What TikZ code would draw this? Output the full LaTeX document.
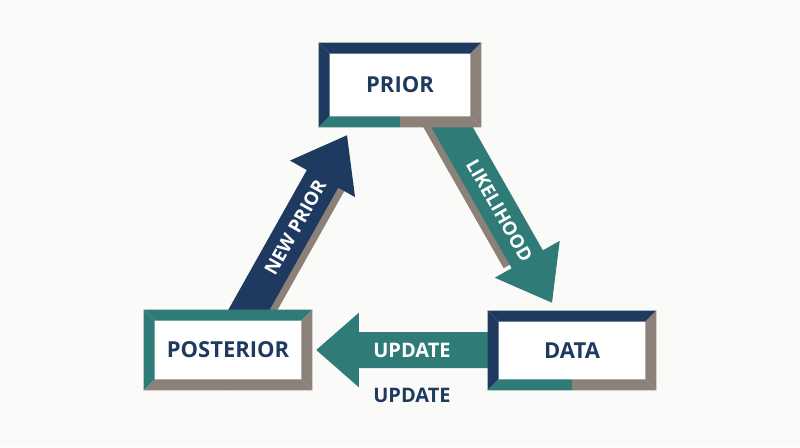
\documentclass[tikz,border=0pt]{standalone}
\usepackage{fontspec}
\setmainfont{Open Sans}
\usetikzlibrary{calc, positioning, backgrounds}
\definecolor{cnavy}{HTML}{1F3A60}
\definecolor{cteal}{HTML}{2E7B77}
\definecolor{cgrey}{HTML}{8C8178}
\definecolor{cpaper}{HTML}{FAFAF8}
\tikzset{
  every picture/.style={x=0.75pt, y=0.75pt},
  box/.style={fill=white, inner sep=0pt, minimum width=#1, minimum height=60pt, text=cnavy, font=\bfseries\fontsize{16.5}{19}\selectfont},
  box/.default=126pt,
  inlbl/.style={text=white, font=\bfseries\fontsize{14}{16}\selectfont, inner sep=0pt},
  updlbl/.style={font=\bfseries\fontsize{15}{18}\selectfont, inner sep=0pt},
}
% mitered frame: #1 node, #2 top, #3 left, #4 right, #5 bottom left, #6 bottom right
\newcommand{\bevel}[6]{%
  \fill[#2] (#1.north west) -- (#1.north east) -- ($(#1.north east)+(-11,-11)$) -- ($(#1.north west)+(11,-11)$) -- cycle;
  \fill[#3] (#1.north west) -- ($(#1.north west)+(11,-11)$) -- ($(#1.south west)+(11,11)$) -- (#1.south west) -- cycle;
  \fill[#4] (#1.north east) -- (#1.south east) -- ($(#1.south east)+(-11,11)$) -- ($(#1.north east)+(-11,-11)$) -- cycle;
  \fill[#5] (#1.south west) -- (#1.south) -- ($(#1.south)+(0,11)$) -- ($(#1.south west)+(11,11)$) -- cycle;
  \fill[#6] (#1.south) -- (#1.south east) -- ($(#1.south east)+(-11,11)$) -- ($(#1.south)+(0,11)$) -- cycle;}
% block arrow: #1 tail, #2 tip, #3 colour, #4 head length
\newcommand{\blockarrow}[4]{%
  \coordinate (hb) at ($(#2)!#4!(#1)$);
  \fill[#3] ($(#1)!13.5pt!90:(#2)$) -- ($(hb)!13.5pt!-90:(#1)$) -- ($(hb)!28pt!-90:(#1)$) -- (#2)
    -- ($(hb)!28pt!90:(#1)$) -- ($(hb)!13.5pt!90:(#1)$) -- ($(#1)!13.5pt!-90:(#2)$) -- cycle;}
% grey strip beside the shaft: #1 tail, #2 tip, #3 shift, #4 head length
\newcommand{\shaftshadow}[4]{%
  \coordinate (st) at ($(#1)+(#3,0)$);
  \coordinate (sh) at ($($(#2)!#4!(#1)$)+(#3,0)$);
  \fill[cgrey] ($(st)!13.5pt!90:(sh)$) -- ($(sh)!13.5pt!-90:(st)$) -- ($(sh)!13.5pt!90:(st)$) -- ($(st)!13.5pt!-90:(sh)$) -- cycle;}

\begin{document}
\begin{tikzpicture}
  \useasboundingbox (0,0) rectangle (800,447);
  % boxes
  \node[box=121.5pt, minimum height=63pt] (prior) at (400,362) {PRIOR};
  \node[box] (post) at (228,97) {POSTERIOR};
  \node[box, minimum height=59.25pt] (data) at (572,96.5) {DATA};
  \bevel{prior}{cnavy}{cnavy}{cgrey}{cteal}{cgrey}
  \bevel{post}{cteal}{cteal}{cgrey}{cgrey}{cgrey}
  \bevel{data}{cnavy}{cnavy}{cgrey}{cteal}{cgrey}
  % arrow ends
  \coordinate (np-tail) at ($(post.north)+(15.4,-10)$);
  \coordinate (np-tip) at ($(prior.south)+(-53,-8)$);
  \coordinate (lk-tail) at ($(prior.south)+(47,9)$);
  \coordinate (lk-tip) at ($(data.north)+(-20,8)$);
  \coordinate (up-tail) at ($(data.west)+(7,0.5)$);
  \coordinate (up-tip) at ($(post.east)+(4,0)$);
  \begin{scope}[on background layer]
    \fill[cpaper] (0,0) rectangle (800,447);
    \shaftshadow{np-tail}{np-tip}{8}{37.5pt}
    \blockarrow{np-tail}{np-tip}{cnavy}{37.5pt}
    \shaftshadow{lk-tail}{lk-tip}{-8}{37.5pt}
    \blockarrow{lk-tail}{lk-tip}{cteal}{37.5pt}
    \blockarrow{up-tail}{up-tip}{cteal}{32pt}
  \end{scope}
  % labels
  \path (np-tail) -- (np-tip) node[inlbl, midway, sloped] (np-lbl) {NEW PRIOR};
  \path (lk-tail) -- (lk-tip) node[inlbl, midway, sloped] (lk-lbl) {LIKELIHOOD};
  \node[updlbl, text=white] (up-lbl) at (412,97) {UPDATE};
  \node[updlbl, text=cnavy] (up-note) at (412,52) {UPDATE};
\end{tikzpicture}
\end{document}
